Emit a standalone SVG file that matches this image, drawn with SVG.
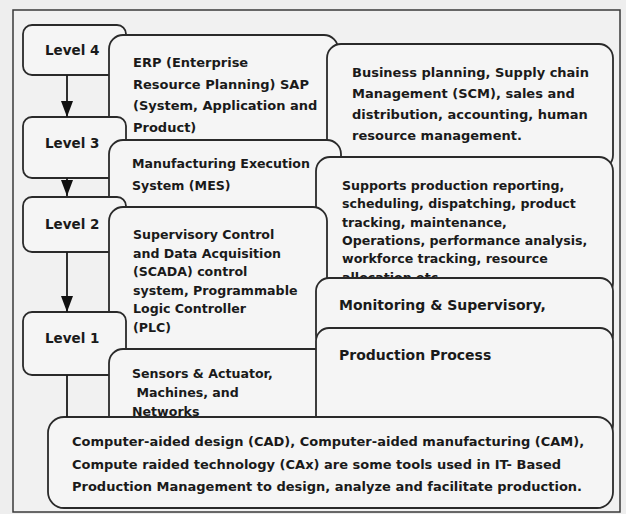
<svg xmlns="http://www.w3.org/2000/svg" width="626" height="514" viewBox="0 0 626 514">
<defs>
<style>
.bg{fill:#eeeeee}
.frame{fill:#f1f1f1;stroke:#3a3a3a;stroke-width:1.5}
.box{fill:#f5f5f5;stroke:#2a2a2a;stroke-width:1.8}
.t{font-family:"DejaVu Sans",Verdana,sans-serif;font-size:13px;font-weight:bold;fill:#1a1a1a}
.s{font-size:12.6px}
.lv{font-family:"DejaVu Sans",Verdana,sans-serif;font-size:13.5px;font-weight:bold;fill:#1a1a1a}
.big{font-family:"DejaVu Sans",Verdana,sans-serif;font-size:14px;font-weight:bold;fill:#1a1a1a}
.ln{stroke:#1a1a1a;stroke-width:1.8;fill:none}
</style>
<marker id="ah" viewBox="0 0 16 12" refX="16" refY="6" markerWidth="16" markerHeight="12" markerUnits="userSpaceOnUse" orient="auto">
<path d="M0,0 L16,6 L0,12 Z" fill="#111"/>
</marker>
</defs>
<rect class="bg" x="0" y="0" width="626" height="514"/>
<rect class="frame" x="13" y="10" width="607" height="502"/>

<g id="level4"><rect class="box" x="23" y="25" width="103" height="50" rx="9"/><text class="lv" x="45" y="55">Level 4</text></g>
<g id="erp"><rect class="box" x="109" y="35" width="229" height="115" rx="14"/>
<text class="t" x="133" y="67">ERP (Enterprise</text>
<text class="t" x="133" y="89">Resource Planning) SAP</text>
<text class="t" x="133" y="110">(System, Application and</text>
<text class="t" x="133" y="132">Product)</text></g>
<g id="business"><rect class="box" x="327" y="44" width="286" height="125" rx="14"/>
<text class="t" x="352" y="77">Business planning, Supply chain</text>
<text class="t" x="352" y="98">Management (SCM), sales and</text>
<text class="t" x="352" y="119">distribution, accounting, human</text>
<text class="t" x="352" y="140">resource management.</text></g>
<g id="level3"><rect class="box" x="23" y="117" width="103" height="61" rx="9"/><text class="lv" x="45" y="148">Level 3</text></g>
<g id="mes"><rect class="box" x="109" y="140" width="232" height="80" rx="14"/>
<text class="t s" x="132" y="168">Manufacturing Execution</text>
<text class="t s" x="132" y="190">System (MES)</text></g>
<g id="supports"><rect class="box" x="316" y="157" width="297" height="140" rx="14"/>
<text class="t s" x="342" y="190">Supports production reporting,</text>
<text class="t s" x="342" y="208">scheduling, dispatching, product</text>
<text class="t s" x="342" y="227">tracking, maintenance,</text>
<text class="t s" x="342" y="245">Operations, performance analysis,</text>
<text class="t s" x="342" y="263">workforce tracking, resource</text>
<text class="t s" x="342" y="282">allocation etc.</text></g>
<g id="level2"><rect class="box" x="23" y="197" width="103" height="55" rx="9"/><text class="lv" x="45" y="229">Level 2</text></g>
<g id="scada"><rect class="box" x="109" y="207" width="218" height="160" rx="14"/>
<text class="t s" x="133" y="239">Supervisory Control</text>
<text class="t s" x="133" y="258">and Data Acquisition</text>
<text class="t s" x="133" y="276">(SCADA) control</text>
<text class="t s" x="133" y="295">system, Programmable</text>
<text class="t s" x="133" y="313">Logic Controller</text>
<text class="t s" x="133" y="332">(PLC)</text></g>
<g id="monitoring"><rect class="box" x="316" y="278" width="297" height="70" rx="13"/>
<text class="big" x="339" y="310">Monitoring &amp; Supervisory,</text></g>
<g id="level1"><rect class="box" x="23" y="312" width="103" height="63" rx="9"/><text class="lv" x="45" y="343">Level 1</text></g>
<g id="sensors"><rect class="box" x="109" y="349" width="220" height="90" rx="14"/>
<text class="t s" x="132" y="378">Sensors &amp; Actuator,</text>
<text class="t s" x="132" y="397" xml:space="preserve"> Machines, and</text>
<text class="t s" x="132" y="416">Networks</text></g>
<g id="production"><rect class="box" x="316" y="328" width="297" height="110" rx="13"/>
<text class="big" x="339" y="360">Production Process</text></g>
<g id="tools"><rect class="box" x="48" y="417" width="565" height="91" rx="16"/>
<text class="t" x="72" y="446">Computer-aided design (CAD), Computer-aided manufacturing (CAM),</text>
<text class="t" x="72" y="469">Compute raided technology (CAx) are some tools used in IT- Based</text>
<text class="t" x="72" y="491">Production Management to design, analyze and facilitate production.</text></g>

<g id="connectors">
<line class="ln" x1="67" y1="75" x2="67" y2="117" marker-end="url(#ah)"/>
<line class="ln" x1="67" y1="178" x2="67" y2="196" marker-end="url(#ah)"/>
<line class="ln" x1="67" y1="252" x2="67" y2="312" marker-end="url(#ah)"/>
<line class="ln" x1="67" y1="375" x2="67" y2="417"/>
</g>
</svg>
